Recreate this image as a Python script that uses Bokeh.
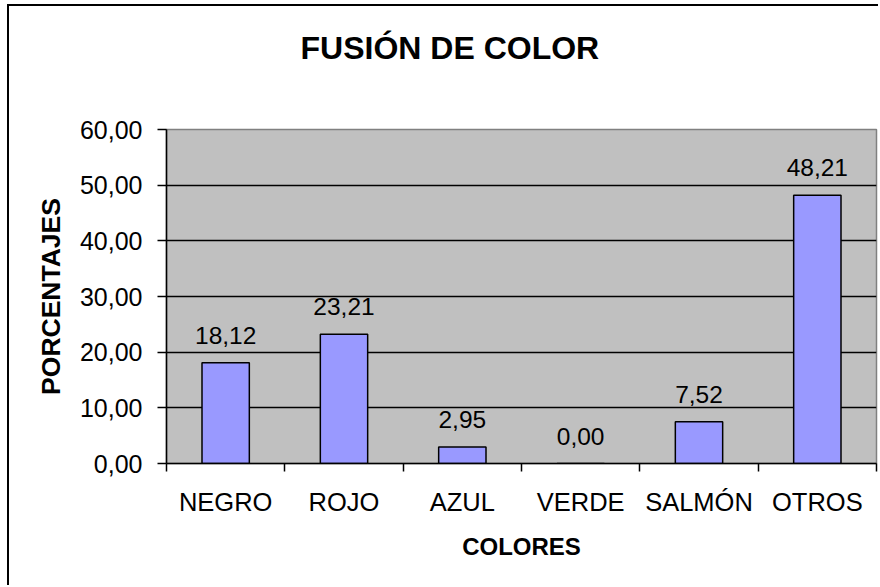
from bokeh.plotting import figure
from bokeh.models import Range1d, FixedTicker, ColumnDataSource, LabelSet, Title
from bokeh.core.properties import value
from bokeh.embed import file_html
from bokeh.resources import INLINE

# ---- data ----
categories = ["NEGRO", "ROJO", "AZUL", "VERDE", "SALMÓN", "OTROS"]
percentages = [18.12, 23.21, 2.95, 0.00, 7.52, 48.21]
y_ticks = [0, 10, 20, 30, 40, 50, 60]
y_tick_labels = ["0,00", "10,00", "20,00", "30,00", "40,00", "50,00", "60,00"]
title_text = "FUSIÓN DE COLOR"
x_label = "COLORES"
y_label = "PORCENTAJES"

FONT = "Liberation Sans"

x_centers = [i + 0.5 for i in range(len(categories))]
x_bounds = [float(i) for i in range(len(categories) + 1)]
bar_labels = [f"{v:.2f}".replace(".", ",") for v in percentages]
source = ColumnDataSource(dict(x=x_centers, top=percentages, label=bar_labels))

p = figure(width=871, height=581, output_backend="svg", toolbar_location=None,
           x_range=Range1d(0, len(categories)),
           y_range=Range1d(y_ticks[0], y_ticks[-1]),
           min_border_left=157, min_border_right=4,
           min_border_top=123, min_border_bottom=124,
           title=title_text)

p.styles = {"margin-left": "7px", "margin-top": "4px",
            "border-left": "2px solid black", "border-top": "2px solid black"}

p.background_fill_color = "#C0C0C0"
p.border_fill_color = "white"
p.outline_line_color = "#808080"
p.outline_line_width = 1.5

# title
p.title.text_font = FONT
p.title.text_font_size = "32px"
p.title.text_font_style = "bold"
p.title.text_color = "black"
p.title.align = "left"
p.title.offset = 134
p.title.standoff = 10

# empty spacer panel between the title and the plot area
spacer = Title(text=" ", text_font_size="1px", standoff=56)
p.add_layout(spacer, "above")

# bars
p.vbar(x="x", top="top", width=0.4, source=source,
       fill_color="#9999FF", line_color="black", line_width=1.5)

labels = LabelSet(x="x", y="top", text="label", source=source,
                  text_align="center", text_baseline="alphabetic", y_offset=19,
                  text_font=value(FONT), text_font_size=value("24.5px"), text_color="black")
p.add_layout(labels)

# x axis
xa = p.xaxis[0]
xa.ticker = FixedTicker(ticks=x_centers, minor_ticks=x_bounds)
xa.major_label_overrides = {c: lab for c, lab in zip(x_centers, categories)}
xa.major_tick_out = 0
xa.major_tick_in = 0
xa.minor_tick_out = 8
xa.minor_tick_in = 0
xa.minor_tick_line_color = "black"
xa.minor_tick_line_width = 1.5
xa.axis_line_color = "black"
xa.axis_line_width = 1.5
xa.major_label_text_font = FONT
xa.major_label_text_font_size = "25.5px"
xa.major_label_text_color = "black"
xa.major_label_standoff = 16
xa.axis_label = x_label
xa.axis_label_text_font = FONT
xa.axis_label_text_font_size = "24px"
xa.axis_label_text_font_style = "bold"
xa.axis_label_text_color = "black"
xa.axis_label_standoff = 14

# y axis
ya = p.yaxis[0]
ya.ticker = FixedTicker(ticks=y_ticks)
ya.major_label_overrides = {t: lab for t, lab in zip(y_ticks, y_tick_labels)}
ya.major_tick_out = 9
ya.major_tick_in = 0
ya.major_tick_line_color = "black"
ya.major_tick_line_width = 1.5
ya.minor_tick_line_color = None
ya.axis_line_color = "black"
ya.axis_line_width = 1.5
ya.major_label_text_font = FONT
ya.major_label_text_font_size = "25px"
ya.major_label_text_color = "black"
ya.major_label_standoff = 15
ya.axis_label = y_label
ya.axis_label_text_font = FONT
ya.axis_label_text_font_size = "26.5px"
ya.axis_label_text_font_style = "bold"
ya.axis_label_text_color = "black"
ya.axis_label_standoff = 11

# grid
p.xgrid.visible = False
p.ygrid.ticker = FixedTicker(ticks=y_ticks[1:-1])
p.ygrid.grid_line_color = "black"
p.ygrid.grid_line_width = 1.3

open("out.html", "w").write(file_html(p, INLINE))
